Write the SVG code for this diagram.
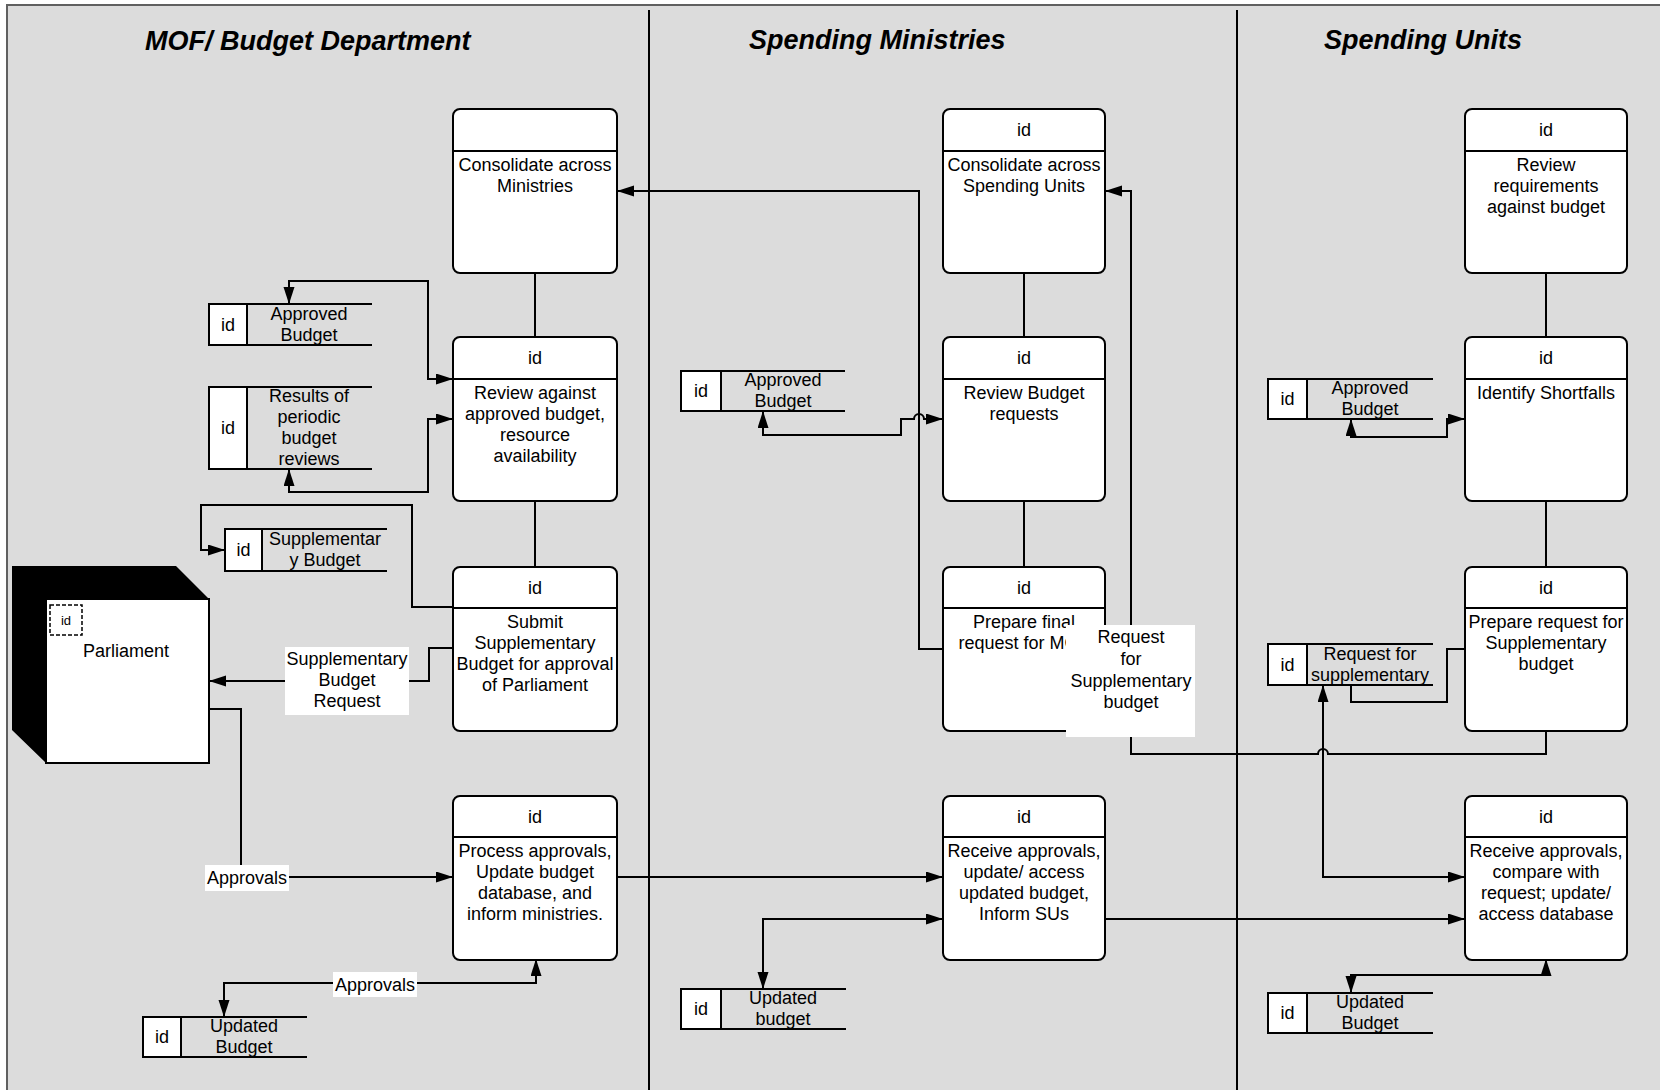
<svg xmlns="http://www.w3.org/2000/svg" width="1660" height="1090" viewBox="0 0 1660 1090">
  <style>
    text { font-family: "Liberation Sans", Arial, sans-serif; font-size: 18px; fill: #000; }
    .lane-title { font-size: 27px; font-weight: bold; font-style: italic; }
    .c { text-anchor: middle; }
    .proc { fill: #fff; stroke: #000; stroke-width: 2; }
    .sep { stroke: #000; stroke-width: 2; fill: none; }
    .cell { fill: #fff; stroke: #000; stroke-width: 2; }
    .edge { fill: none; stroke: #000; stroke-width: 2; }
    .arrow { marker-end: url(#ah); }
    .both { marker-start: url(#ah); marker-end: url(#ah); }
    .lbl { fill: #fff; stroke: none; }
  </style>
  <defs>
    <marker id="ah" markerUnits="userSpaceOnUse" markerWidth="18" markerHeight="12" refX="17" refY="5.5" orient="auto-start-reverse">
      <path d="M0,0 L17,5.5 L0,11 z" fill="#000"/>
    </marker>
  </defs>

  <!-- swimlane frame -->
  <g id="lanes">
    <rect x="7" y="5" width="1700" height="1100" fill="#dcdcdc" stroke="#606060" stroke-width="2"/>
    <line x1="649" y1="10" x2="649" y2="1090" class="sep"/>
    <line x1="1237" y1="10" x2="1237" y2="1090" class="sep"/>
    <text class="lane-title" x="145" y="50">MOF/ Budget Department</text>
    <text class="lane-title" x="749" y="49">Spending Ministries</text>
    <text class="lane-title" x="1324" y="49">Spending Units</text>
  </g>

  <!-- MOF / Budget Department processes -->
  <g id="mof-consolidate">
    <rect class="proc" x="453" y="109" width="164" height="164" rx="7"/>
    <line class="sep" x1="453" y1="151" x2="617" y2="151"/>
    <text class="c" x="535" y="171">Consolidate across</text>
    <text class="c" x="535" y="192">Ministries</text>
  </g>
  <g id="mof-review">
    <rect class="proc" x="453" y="337" width="164" height="164" rx="7"/>
    <line class="sep" x1="453" y1="379" x2="617" y2="379"/>
    <text class="c" x="535" y="364">id</text>
    <text class="c" x="535" y="399">Review against</text>
    <text class="c" x="535" y="420">approved budget,</text>
    <text class="c" x="535" y="441">resource</text>
    <text class="c" x="535" y="462">availability</text>
  </g>
  <g id="mof-submit">
    <rect class="proc" x="453" y="567" width="164" height="164" rx="7"/>
    <line class="sep" x1="453" y1="608" x2="617" y2="608"/>
    <text class="c" x="535" y="594">id</text>
    <text class="c" x="535" y="628">Submit</text>
    <text class="c" x="535" y="649">Supplementary</text>
    <text class="c" x="535" y="670">Budget for approval</text>
    <text class="c" x="535" y="691">of Parliament</text>
  </g>
  <g id="mof-process">
    <rect class="proc" x="453" y="796" width="164" height="164" rx="7"/>
    <line class="sep" x1="453" y1="837" x2="617" y2="837"/>
    <text class="c" x="535" y="823">id</text>
    <text class="c" x="535" y="857">Process approvals,</text>
    <text class="c" x="535" y="878">Update budget</text>
    <text class="c" x="535" y="899">database, and</text>
    <text class="c" x="535" y="920">inform ministries.</text>
  </g>

  <!-- MOF data stores -->
  <g id="mof-store-approved">
    <rect class="cell" x="209" y="304" width="38" height="41"/>
    <path class="sep" d="M247,304 H372 M247,345 H372"/>
    <text class="c" x="228" y="331">id</text>
    <text class="c" x="309" y="320">Approved</text>
    <text class="c" x="309" y="341">Budget</text>
  </g>
  <g id="mof-store-reviews">
    <rect class="cell" x="209" y="387" width="38" height="82"/>
    <path class="sep" d="M247,387 H372 M247,469 H372"/>
    <text class="c" x="228" y="434">id</text>
    <text class="c" x="309" y="402">Results of</text>
    <text class="c" x="309" y="423">periodic</text>
    <text class="c" x="309" y="444">budget</text>
    <text class="c" x="309" y="465">reviews</text>
  </g>
  <g id="mof-store-supplementary">
    <rect class="cell" x="225" y="529" width="37" height="42"/>
    <path class="sep" d="M262,529 H387 M262,571 H387"/>
    <text class="c" x="243.5" y="556">id</text>
    <text class="c" x="325" y="545">Supplementar</text>
    <text class="c" x="325" y="566">y Budget</text>
  </g>
  <g id="mof-store-updated">
    <rect class="cell" x="143" y="1017" width="38" height="40"/>
    <path class="sep" d="M181,1017 H307 M181,1057 H307"/>
    <text class="c" x="162" y="1043">id</text>
    <text class="c" x="244" y="1032">Updated</text>
    <text class="c" x="244" y="1053">Budget</text>
  </g>

  <!-- external entity -->
  <g id="parliament">
    <path d="M12,566 H176 L209,599 H46 V763 L12,730 Z" fill="#000"/>
    <rect x="46" y="599" width="163" height="164" fill="#fff" stroke="#000" stroke-width="2"/>
    <rect x="50" y="605" width="32" height="30" fill="none" stroke="#000" stroke-width="1.5" stroke-dasharray="4,2"/>
    <text class="c" x="66" y="625" style="font-size:13px">id</text>
    <text class="c" x="126" y="657">Parliament</text>
  </g>

  <!-- Spending Ministries processes -->
  <g id="sm-consolidate">
    <rect class="proc" x="943" y="109" width="162" height="164" rx="7"/>
    <line class="sep" x1="943" y1="151" x2="1105" y2="151"/>
    <text class="c" x="1024" y="136">id</text>
    <text class="c" x="1024" y="171">Consolidate across</text>
    <text class="c" x="1024" y="192">Spending Units</text>
  </g>
  <g id="sm-review">
    <rect class="proc" x="943" y="337" width="162" height="164" rx="7"/>
    <line class="sep" x1="943" y1="379" x2="1105" y2="379"/>
    <text class="c" x="1024" y="364">id</text>
    <text class="c" x="1024" y="399">Review Budget</text>
    <text class="c" x="1024" y="420">requests</text>
  </g>
  <g id="sm-prepare">
    <rect class="proc" x="943" y="567" width="162" height="164" rx="7"/>
    <line class="sep" x1="943" y1="608" x2="1105" y2="608"/>
    <text class="c" x="1024" y="594">id</text>
    <text class="c" x="1024" y="628">Prepare final</text>
    <text class="c" x="1024" y="649">request for MOF</text>
  </g>
  <g id="sm-receive">
    <rect class="proc" x="943" y="796" width="162" height="164" rx="7"/>
    <line class="sep" x1="943" y1="837" x2="1105" y2="837"/>
    <text class="c" x="1024" y="823">id</text>
    <text class="c" x="1024" y="857">Receive approvals,</text>
    <text class="c" x="1024" y="878">update/ access</text>
    <text class="c" x="1024" y="899">updated budget,</text>
    <text class="c" x="1024" y="920">Inform SUs</text>
  </g>

  <!-- Spending Ministries data stores -->
  <g id="sm-store-approved">
    <rect class="cell" x="681" y="371" width="40" height="40"/>
    <path class="sep" d="M721,371 H845 M721,411 H845"/>
    <text class="c" x="701" y="397">id</text>
    <text class="c" x="783" y="386">Approved</text>
    <text class="c" x="783" y="407">Budget</text>
  </g>
  <g id="sm-store-updated">
    <rect class="cell" x="681" y="989" width="40" height="40"/>
    <path class="sep" d="M721,989 H846 M721,1029 H846"/>
    <text class="c" x="701" y="1015">id</text>
    <text class="c" x="783" y="1004">Updated</text>
    <text class="c" x="783" y="1025">budget</text>
  </g>

  <!-- Spending Units processes -->
  <g id="su-review">
    <rect class="proc" x="1465" y="109" width="162" height="164" rx="7"/>
    <line class="sep" x1="1465" y1="151" x2="1627" y2="151"/>
    <text class="c" x="1546" y="136">id</text>
    <text class="c" x="1546" y="171">Review</text>
    <text class="c" x="1546" y="192">requirements</text>
    <text class="c" x="1546" y="213">against budget</text>
  </g>
  <g id="su-shortfalls">
    <rect class="proc" x="1465" y="337" width="162" height="164" rx="7"/>
    <line class="sep" x1="1465" y1="379" x2="1627" y2="379"/>
    <text class="c" x="1546" y="364">id</text>
    <text class="c" x="1546" y="399">Identify Shortfalls</text>
  </g>
  <g id="su-prepare">
    <rect class="proc" x="1465" y="567" width="162" height="164" rx="7"/>
    <line class="sep" x1="1465" y1="608" x2="1627" y2="608"/>
    <text class="c" x="1546" y="594">id</text>
    <text class="c" x="1546" y="628">Prepare request for</text>
    <text class="c" x="1546" y="649">Supplementary</text>
    <text class="c" x="1546" y="670">budget</text>
  </g>
  <g id="su-receive">
    <rect class="proc" x="1465" y="796" width="162" height="164" rx="7"/>
    <line class="sep" x1="1465" y1="837" x2="1627" y2="837"/>
    <text class="c" x="1546" y="823">id</text>
    <text class="c" x="1546" y="857">Receive approvals,</text>
    <text class="c" x="1546" y="878">compare with</text>
    <text class="c" x="1546" y="899">request; update/</text>
    <text class="c" x="1546" y="920">access database</text>
  </g>

  <!-- Spending Units data stores -->
  <g id="su-store-approved">
    <rect class="cell" x="1268" y="379" width="39" height="40"/>
    <path class="sep" d="M1307,379 H1433 M1307,419 H1433"/>
    <text class="c" x="1287.5" y="405">id</text>
    <text class="c" x="1370" y="394">Approved</text>
    <text class="c" x="1370" y="415">Budget</text>
  </g>
  <g id="su-store-request">
    <rect class="cell" x="1268" y="644" width="39" height="41"/>
    <path class="sep" d="M1307,644 H1433 M1307,685 H1433"/>
    <text class="c" x="1287.5" y="671">id</text>
    <text class="c" x="1370" y="660">Request for</text>
    <text class="c" x="1370" y="681">supplementary</text>
  </g>
  <g id="su-store-updated">
    <rect class="cell" x="1268" y="993" width="39" height="40"/>
    <path class="sep" d="M1307,993 H1433 M1307,1033 H1433"/>
    <text class="c" x="1287.5" y="1019">id</text>
    <text class="c" x="1370" y="1008">Updated</text>
    <text class="c" x="1370" y="1029">Budget</text>
  </g>

  <!-- connectors -->
  <g id="connectors">
    <!-- sequence links between stacked processes -->
    <path class="edge" d="M535,273 V337 M535,501 V567 M1024,273 V337 M1024,501 V567 M1546,273 V337 M1546,501 V567"/>

    <path class="edge arrow" d="M943,649 H919 V191 H617"/>
    <path class="edge both" d="M453,379 H428 V281 H289 V304"/>
    <path class="edge both" d="M453,419 H428 V492 H289 V469"/>
    <path class="edge arrow" d="M453,607 H412 V505 H201 V550 H225"/>

    <path class="edge arrow" d="M453,648 H429 V681 H209"/>
    <rect class="lbl" x="285" y="647" width="124" height="68"/>
    <text class="c" x="347" y="665">Supplementary</text>
    <text class="c" x="347" y="686">Budget</text>
    <text class="c" x="347" y="707">Request</text>

    <path class="edge arrow" d="M209,709 H241 V877 H453"/>
    <rect class="lbl" x="205" y="865" width="84" height="26"/>
    <text class="c" x="247" y="884">Approvals</text>

    <path class="edge both" d="M536,959 V983 H224 V1017"/>
    <rect class="lbl" x="333" y="972" width="84" height="25"/>
    <text class="c" x="375" y="991">Approvals</text>

    <path class="edge arrow" d="M617,877 H943"/>

    <path class="edge both" d="M943,419 H924 A5,5 0 0 0 914,419 H901 V435 H763 V411"/>

    <path class="edge arrow" d="M1546,731 V754 H1328 A5,5 0 0 0 1318,754 H1131 V191 H1105"/>
    <rect class="lbl" x="1066" y="625" width="129" height="112"/>
    <text class="c" x="1131" y="643">Request</text>
    <text class="c" x="1131" y="665">for</text>
    <text class="c" x="1131" y="687">Supplementary</text>
    <text class="c" x="1131" y="708">budget</text>

    <path class="edge both" d="M943,919 H763 V989"/>
    <path class="edge arrow" d="M1105,919 H1465"/>
    <path class="edge both" d="M1323,685 V877 H1465"/>
    <path class="edge" d="M1465,649 H1447 V702 H1351 V685"/>
    <path class="edge both" d="M1465,419 H1447 V437 H1351 V419"/>
    <path class="edge both" d="M1546,959 V975 H1351 V993"/>
  </g>
</svg>
